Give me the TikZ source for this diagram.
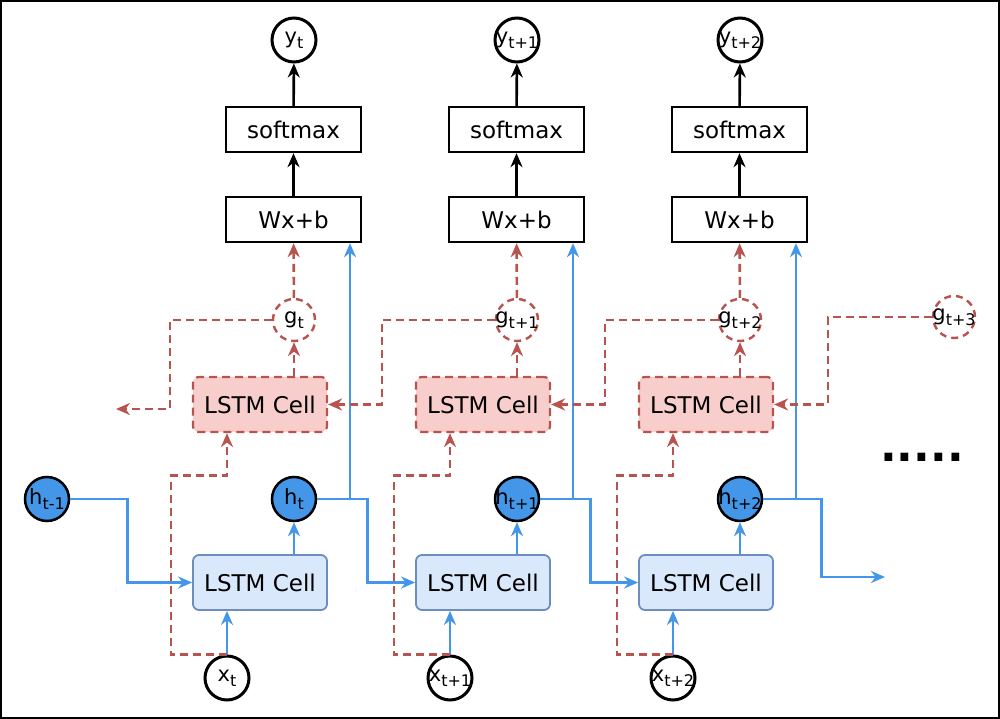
\documentclass[tikz,border=0pt]{standalone}
\usepackage{fontspec}
\setmainfont{DejaVu Sans}
\usetikzlibrary{arrows.meta}
\definecolor{cellred}{HTML}{F8CECC}
\definecolor{linered}{HTML}{B85450}
\definecolor{cellblue}{HTML}{DAE8FC}
\definecolor{edgeblue}{HTML}{6C8EBF}
\definecolor{lineblue}{HTML}{4496E8}
\newcommand{\lbl}[2]{\makebox[0pt]{#1\raisebox{-5pt}{\fontsize{16}{16}\selectfont#2}}}
\begin{document}
\begin{tikzpicture}[x=1pt,y=-1pt,font=\fontsize{21}{21}\selectfont,
  ring/.style={circle,draw,line width=3pt,minimum size=44pt,inner sep=0pt},
  hidden/.style={ring,fill=lineblue,line width=2.5pt},
  gate/.style={circle,draw=linered,dash pattern=on 7pt off 5pt,line width=2.4pt,minimum size=42pt,inner sep=0pt},
  layer/.style={draw,line width=2.4pt,minimum width=135pt,minimum height=45pt,font=\fontsize{23}{23}\selectfont},
  bluecell/.style={draw=edgeblue,fill=cellblue,rounded corners=6pt,line width=1.8pt,minimum width=134pt,minimum height=55pt,font=\fontsize{23}{23}\selectfont},
  redcell/.style={bluecell,draw=linered,fill=cellred,line width=2.2pt,dash pattern=on 8pt off 5pt},
  blk/.style={-{Stealth[length=14pt,width=12pt]},line width=2.6pt},
  blueflow/.style={blk,lineblue},
  redflow/.style={blk,linered,dash pattern=on 8pt off 5pt}]
\useasboundingbox (0,0) rectangle (1000,719);
\draw[line width=1.5pt] (1,1) rectangle (999,718);
% one column per time step
\foreach \i/\s in {0/t,1/t+1,2/t+2} {
  \node[ring] (y\i) at ({294+223*\i},40) {\lbl{y}{\s}};
  \node[layer] (soft\i) at ({293.5+223*\i},129.5) {softmax};
  \node[layer] (lin\i) at ({293.5+223*\i},219.5) {Wx+b};
  \node[gate] (g\i) at ({294+223*\i},320) {\lbl{g}{\s}};
  \node[redcell] (top\i) at ({260+223*\i},404.5) {LSTM Cell};
  \node[hidden] (h\i) at ({294+223*\i},499) {\lbl{h}{\s}};
  \node[bluecell] (cell\i) at ({260+223*\i},582.5) {LSTM Cell};
  \node[ring] (x\i) at ({227+223*\i},678) {\lbl{x}{\s}};
  \draw[blk] (lin\i) -- (soft\i);
  \draw[blk] (soft\i) -- (y\i);
  \draw[redflow] (g\i) -- (lin\i);
  \draw[redflow] (g\i |- top\i.north) -- (g\i);
  \draw[blueflow] (h\i |- cell\i.north) -- (h\i);
  \draw[blueflow] (x\i) -- (x\i |- cell\i.south);
  \draw[redflow] (x\i.north) -| ++(-56,-179) -| (x\i |- top\i.south);
  \draw[blueflow] (h\i.east) -| ([xshift=56.5pt]lin\i.south);
}
\node[hidden] (hprev) at (47,499) {\lbl{h}{t-1}};
\node[gate] (g3) at (954,317) {\lbl{g}{t+3}};
\node[font=\fontsize{44}{44}\bfseries] (more) at (922,457) {.....};
\coordinate (gout) at (116,409);
\coordinate (hout) at (885,577);
% recurrent links
\draw[blueflow] (hprev.east) -- ++(57,0) |- (cell0.west);
\draw[blueflow] (h0.east) -- ++(50,0) |- (cell1.west);
\draw[blueflow] (h1.east) -- ++(50,0) |- (cell2.west);
\draw[blueflow] (h2.east) -- ++(58,0) |- (hout);
\draw[redflow] (g0.west) -| ++(-102,89) -- (gout);
\draw[redflow] (g1.west) -- ++(-113,0) |- (top0.east);
\draw[redflow] (g2.west) -- ++(-113,0) |- (top1.east);
\draw[redflow] (g3.west) -- ++(-104,0) |- (top2.east);
\end{tikzpicture}
\end{document}
